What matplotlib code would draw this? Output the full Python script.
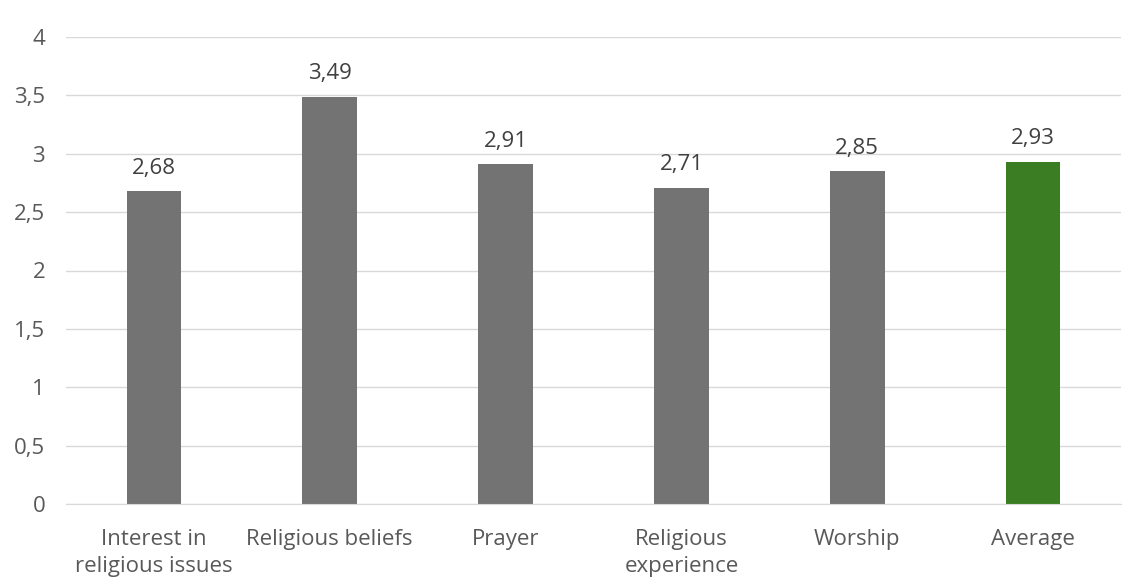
import matplotlib
matplotlib.use("Agg")
import matplotlib.pyplot as plt

categories = ["Interest in\nreligious issues", "Religious beliefs", "Prayer",
              "Religious\nexperience", "Worship", "Average"]
values = [2.68, 3.49, 2.91, 2.71, 2.85, 2.93]
colors = ["#737373"] * 5 + ["#3b7d23"]
yticks = [0, 0.5, 1, 1.5, 2, 2.5, 3, 3.5, 4]

plt.rcParams["font.family"] = ["Open Sans", "DejaVu Sans"]
text_color = "#595959"

fig = plt.figure(figsize=(11.35, 5.81), dpi=100)
ax = fig.add_axes([66 / 1135, 1 - 504 / 581, 1055 / 1135, 467 / 581])

x = list(range(len(categories)))
ax.bar(x, values, width=0.31, color=colors, zorder=3)

for xi, v in zip(x, values):
    ax.annotate(f"{v:.2f}".replace(".", ","), (xi, v), xytext=(0, 9),
                textcoords="offset points", ha="center", va="bottom",
                fontsize=16, color="#404040")

ax.set_xlim(-0.5, len(categories) - 0.5)
ax.set_ylim(0, 4)
ax.set_yticks(yticks)
ax.set_yticklabels([f"{t:g}".replace(".", ",") for t in yticks])
ax.set_xticks(x)
ax.set_xticklabels(categories, linespacing=1.35)
ax.tick_params(axis="y", length=0, pad=15, labelsize=16, labelcolor=text_color)
ax.tick_params(axis="x", length=0, pad=18, labelsize=16, labelcolor=text_color)

ax.grid(axis="y", color="#d9d9d9", linewidth=1, zorder=0)
for side in ["top", "right", "left"]:
    ax.spines[side].set_visible(False)
ax.spines["bottom"].set_color("#d9d9d9")
ax.spines["bottom"].set_zorder(4)

fig.savefig("out.png", dpi=100, facecolor="white")
